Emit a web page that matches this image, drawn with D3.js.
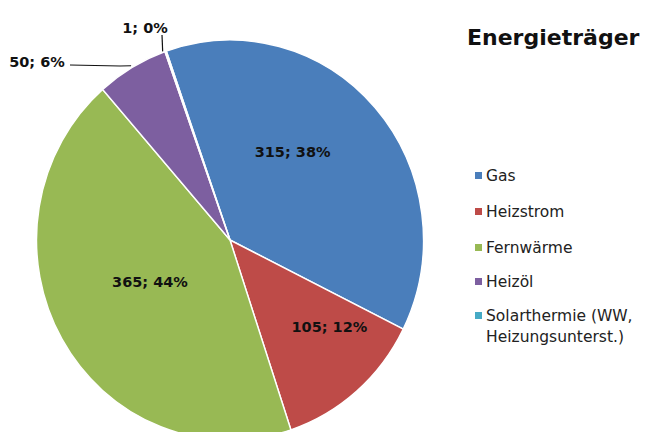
<!DOCTYPE html>
<html>
<head>
<meta charset="utf-8">
<script src="https://cdn.jsdelivr.net/npm/d3@7"></script>
<style>
  body { margin: 0; background: #fff; }
  svg { display: block; font-family: 'DejaVu Sans', sans-serif; }
</style>
</head>
<body>
<div class="workspace"></div>
<script>
// data
const categories = ['Gas', 'Heizstrom', 'Fernwärme', 'Heizöl', 'Solarthermie (WW, Heizungsunterst.)'];
const values = [315, 105, 365, 50, 1];
const pctLabels = ['38%', '12%', '44%', '6%', '0%'];
const colors = ['#4a7ebb', '#be4b48', '#98b954', '#7d5fa0', '#46aac5'];
const legendLines = [['Gas'], ['Heizstrom'], ['Fernwärme'], ['Heizöl'], ['Solarthermie (WW,', 'Heizungsunterst.)']];

const width = 651;
const height = 432;
const cx = 230;
const cy = 240;
const radius = 200;
const squash = 0.9675; // pie is a touch narrower than tall
const startAngle = (-19.2 * Math.PI) / 180;

const svg = d3
  .select('.workspace')
  .append('svg')
  .attr('width', width)
  .attr('height', height);

const pie = d3
  .pie()
  .sort(null)
  .value(function (d) {
    return d;
  })
  .startAngle(startAngle)
  .endAngle(startAngle + 2 * Math.PI);

const arcs = pie(values);
const arc = d3.arc().innerRadius(0).outerRadius(radius);

const pieGroup = svg
  .append('g')
  .attr('transform', `translate(${cx},${cy}) scale(${squash},1)`);

pieGroup
  .selectAll('path')
  .data(arcs)
  .enter()
  .append('path')
  .attr('d', arc)
  .style('fill', function (d, i) {
    return colors[i];
  })
  .style('stroke', '#fff')
  .style('stroke-width', 1.5);

// map a point of the unscaled pie onto the page
function toPage(p) {
  return [cx + p[0] * squash, cy + p[1]];
}

// inside labels: centroid of a label ring, then small nudges like excel's best fit
const labelArc = d3.arc().innerRadius(0).outerRadius(radius);
const nudge = [
  [-10, -22],
  [36, 11],
  [4, -8],
];
for (let i = 0; i < 3; i++) {
  const c = toPage(labelArc.centroid(arcs[i]));
  svg
    .append('text')
    .attr('x', c[0] + nudge[i][0])
    .attr('y', c[1] + nudge[i][1])
    .attr('text-anchor', 'middle')
    .attr('dy', '0.35em')
    .style('font-size', '14.5px')
    .style('font-weight', 'bold')
    .style('fill', '#111')
    .text(`${values[i]}; ${pctLabels[i]}`);
}

// outside labels with leader lines
function edgePoint(d, r) {
  const a = (d.startAngle + d.endAngle) / 2;
  return toPage([r * Math.sin(a), -r * Math.cos(a)]);
}

// Heizöl
const oilEdge = edgePoint(arcs[3], radius + 2);
svg
  .append('polyline')
  .attr('points', `70,65 120,66 ${oilEdge[0]},${oilEdge[1]}`)
  .style('fill', 'none')
  .style('stroke', '#111')
  .style('stroke-width', 1.2);
svg
  .append('text')
  .attr('x', 37)
  .attr('y', 62)
  .attr('text-anchor', 'middle')
  .attr('dy', '0.35em')
  .style('font-size', '14.5px')
  .style('font-weight', 'bold')
  .style('fill', '#111')
  .text(`${values[3]}; ${pctLabels[3]}`);

// Solarthermie
const solEdge = edgePoint(arcs[4], radius);
svg
  .append('line')
  .attr('x1', 162)
  .attr('y1', 35)
  .attr('x2', solEdge[0] - 3)
  .attr('y2', solEdge[1])
  .style('stroke', '#111')
  .style('stroke-width', 1.2);
svg
  .append('text')
  .attr('x', 145)
  .attr('y', 28)
  .attr('text-anchor', 'middle')
  .attr('dy', '0.35em')
  .style('font-size', '14.5px')
  .style('font-weight', 'bold')
  .style('fill', '#111')
  .text(`${values[4]}; ${pctLabels[4]}`);

// title
svg
  .append('text')
  .attr('x', 467)
  .attr('y', 45)
  .style('font-size', '22px')
  .style('font-weight', 'bold')
  .style('fill', '#111')
  .text('Energieträger');

// legend
const legendY = [176, 212, 248, 282, 316];
const legend = svg
  .selectAll('.legend')
  .data(categories)
  .enter()
  .append('g')
  .attr('class', 'legend')
  .attr('transform', function (d, i) {
    return `translate(475,${legendY[i]})`;
  });

legend
  .append('rect')
  .attr('x', 0)
  .attr('y', -4)
  .attr('width', 7)
  .attr('height', 7)
  .style('fill', function (d, i) {
    return colors[i];
  });

legend
  .append('text')
  .attr('x', 11)
  .attr('y', 0)
  .style('font-size', '15.5px')
  .style('fill', '#222')
  .each(function (d, i) {
    const t = d3.select(this);
    legendLines[i].forEach(function (line, j) {
      t.append('tspan')
        .attr('x', 11)
        .attr('dy', j === 0 ? '0.35em' : '1.3em')
        .text(line);
    });
  });
</script>
</body>
</html>
